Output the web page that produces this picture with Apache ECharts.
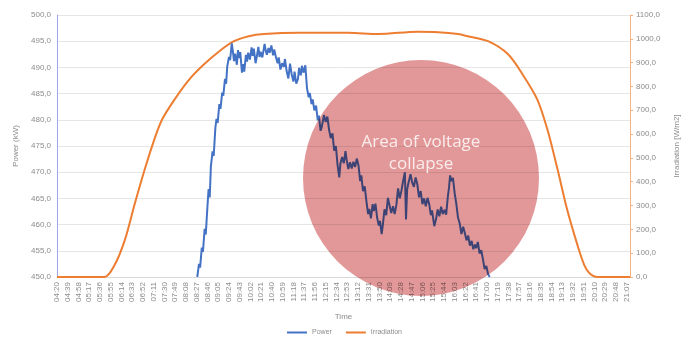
<!DOCTYPE html>
<html>
<head>
<meta charset="utf-8">
<script src="https://cdn.jsdelivr.net/npm/echarts@6/dist/echarts.min.js"></script>
<style>
html,body{margin:0;padding:0;background:#fff;}
#chart{width:689px;height:342px;}
</style>
</head>
<body>
<div id="chart"></div>
<script>
// x values are minutes after 04:20
var startMinute = 4 * 60 + 20;
var powerMinutes = [248,251,253,256,258,261,263,266,268,270,272,275,277,280,282,284,287,289,292,294,297,299,301,304,306,309,311,313,315,318,320,322,324,327,329,331,334,336,338,341,344,346,348,351,353,356,358,360,363,367,369,371,374,376,379,382,384,387,390,392,395,398,401,403,406,409,412,415,418,420,423,426,428,431,433,436,439,442,445,447,450,452,455,458,461,463,466,468,472,475,478,481,484,487,490,493,496,499,501,504,507,510,512,515,518,521,524,527,530,533,536,538,541,544,547,550,552,555,558,560,563,566,569,571,574,576,579,582,585,588,591,594,597,600,603,606,609,612,615,617,619,621,625,628,631,634,637,640,643,646,649,652,655,658,661,663,667,670,673,676,679,682,685,688,691,693,695,697,700,703,706,709,712,715,718,721,724,727,730,733,736,739,741,744,747,750,753,756,759,762,765];
var powerValues = [450.0,452.5,451.8,455.6,454.8,459.2,458.1,463.5,466.8,465.2,471.0,474.0,473.1,478.5,480.2,479.4,483.0,482.1,485.2,484.6,487.8,486.9,490.2,492.0,491.4,494.6,493.0,491.2,492.6,490.5,493.3,491.8,492.9,489.0,490.6,489.2,492.4,491.1,492.8,491.5,493.8,492.2,493.6,490.8,491.9,493.9,492.0,493.0,491.9,494.5,493.2,492.4,493.7,492.8,494.2,492.3,493.4,492.0,490.8,491.9,489.6,490.8,490.1,491.6,489.3,487.9,490.7,488.6,487.3,489.2,486.9,487.8,489.9,488.5,490.3,489.0,490.4,486.0,484.3,485.1,483.0,483.9,481.8,482.7,479.9,480.8,477.9,478.6,480.9,479.6,480.6,478.1,476.5,477.4,474.1,475.0,471.4,469.0,471.6,472.9,471.7,474.0,472.4,470.6,471.9,470.7,472.0,471.0,472.6,471.3,468.3,469.4,466.4,467.3,464.5,462.0,463.0,461.2,463.9,462.6,464.0,461.3,459.8,460.7,458.2,459.9,462.9,461.8,465.1,463.6,462.2,463.5,462.0,463.8,466.9,465.0,466.5,468.4,470.0,461.0,466.7,467.8,469.6,468.0,467.2,469.0,467.7,465.2,466.4,463.9,465.0,463.5,465.1,463.9,461.8,462.7,459.7,461.0,462.9,461.6,463.4,462.0,462.8,461.9,465.4,467.0,469.4,468.3,468.9,466.0,463.9,461.3,460.2,458.2,459.6,458.4,457.0,457.9,456.0,456.9,455.3,456.2,455.5,456.7,454.5,455.1,453.4,451.5,452.1,450.6,450.0];
var irrMinutes = [0,84,102,120,137,155,172,186,208,234,260,287,313,339,366,427,515,568,638,674,709,726,762,797,823,849,867,885,902,920,932,941,955,1013];
var irrValues = [0,0,51,156,303,451,577,662,746,830,893,948,990,1011,1020,1025,1025,1020,1030,1028,1020,1011,990,936,851,746,619,451,282,135,51,17,0,0];

function pairs(xs, ys) {
	var out = [];
	for (var i = 0; i < xs.length; i++) out.push([xs[i], ys[i]]);
	return out;
}
function fmtTime(v) {
	var m = startMinute + Math.round(v);
	var h = Math.floor(m / 60), mm = m % 60;
	return (h < 10 ? '0' : '') + h + ':' + (mm < 10 ? '0' : '') + mm;
}
function fmtNum(v) {
	return v.toFixed(1).replace('.', ',');
}

var textColor = '#8c8c8c';
var font = 'Liberation Sans';

var option = {
	animation: false,
	textStyle: { fontFamily: font },
	grid: { left: 57, right: 56, top: 15, bottom: 65 },
	legend: {
		bottom: 1,
		left: 'center',
		itemWidth: 20,
		itemHeight: 2,
		itemGap: 14,
		textStyle: { fontSize: 7, color: textColor },
		data: [
			{ name: 'Power', icon: 'rect' },
			{ name: 'Irradiation', icon: 'rect' }
		]
	},
	xAxis: {
		type: 'value',
		min: 0,
		max: 1013,
		interval: 19,
		name: 'Time',
		nameLocation: 'middle',
		nameGap: 36,
		nameTextStyle: { fontSize: 8, color: textColor },
		axisLine: { lineStyle: { color: '#d9d9d9' } },
		axisTick: { show: false },
		splitLine: { show: false },
		axisLabel: {
			rotate: 90,
			fontSize: 8,
			color: textColor,
			margin: 5,
			showMaxLabel: false,
			formatter: fmtTime
		}
	},
	yAxis: [
		{
			type: 'value',
			min: 450,
			max: 500,
			interval: 5,
			name: 'Power (kW)',
			nameLocation: 'middle',
			nameGap: 35,
			nameTextStyle: { fontSize: 8, color: textColor },
			axisLine: { show: true, lineStyle: { color: '#9fa8e8' } },
			axisTick: { show: false },
			splitLine: { lineStyle: { color: '#e6e6e6' } },
			axisLabel: { fontSize: 8, color: textColor, margin: 6, formatter: fmtNum }
		},
		{
			type: 'value',
			min: 0,
			max: 1100,
			interval: 100,
			name: 'Irradiation [W/m2]',
			nameLocation: 'middle',
			nameGap: 43,
			nameTextStyle: { fontSize: 8, color: textColor },
			axisLine: { show: true, lineStyle: { color: '#f4b183' } },
			axisTick: { show: true, length: 3, lineStyle: { color: '#f4b183' } },
			splitLine: { show: false },
			axisLabel: { fontSize: 8, color: textColor, margin: 6, formatter: fmtNum }
		}
	],
	series: [
		{
			name: 'Power',
			type: 'line',
			yAxisIndex: 0,
			showSymbol: false,
			symbol: 'none',
			lineStyle: { color: '#4472c4', width: 2 },
			itemStyle: { color: '#4472c4' },
			data: pairs(powerMinutes, powerValues),
			z: 3
		},
		{
			name: 'Irradiation',
			type: 'line',
			yAxisIndex: 1,
			showSymbol: false,
			symbol: 'none',
			smooth: 0.3,
			lineStyle: { color: '#ed7d31', width: 2 },
			itemStyle: { color: '#ed7d31' },
			data: pairs(irrMinutes, irrValues),
			z: 2
		}
	],
	graphic: [
		{
			type: 'circle',
			shape: { cx: 421, cy: 178, r: 118 },
			style: { fill: '#e29898', blend: 'multiply' },
			z: 100
		},
		{
			type: 'text',
			x: 421,
			y: 153,
			style: {
				text: 'Area of voltage\ncollapse',
				fill: '#fbecec',
				font: '17px "Open Sans"',
				align: 'center',
				verticalAlign: 'middle',
				lineHeight: 22
			},
			z: 101
		}
	]
};

var chart = echarts.init(document.getElementById('chart'));
chart.setOption(option);
</script>
</body>
</html>
